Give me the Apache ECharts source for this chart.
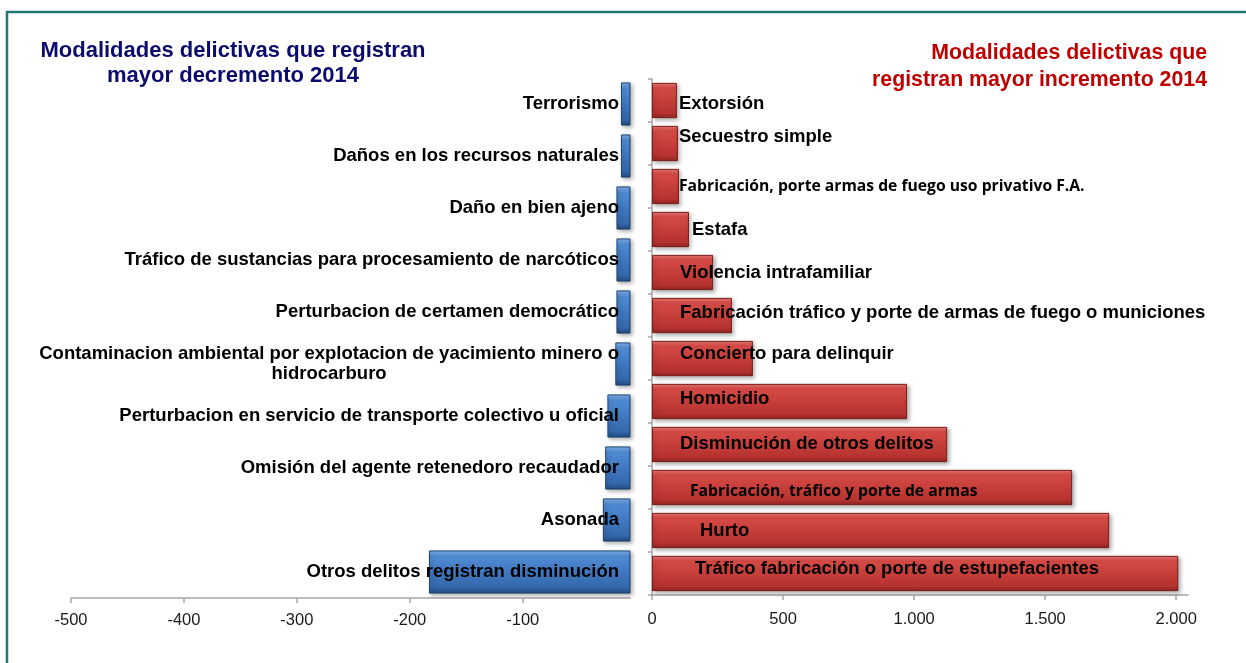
<!DOCTYPE html>
<html>
<head>
<meta charset="utf-8">
<title>Modalidades delictivas 2014</title>
<script src="https://cdn.jsdelivr.net/npm/echarts@6/dist/echarts.min.js"></script>
<style>
  html, body { margin: 0; padding: 0; background: #fff; }
  #main { width: 1246px; height: 663px; }
</style>
</head>
<body>
<div id="main"></div>
<script>
'use strict';

// decremento 2014 (panel izquierdo)
const decCategories = [
    'Terrorismo',
    'Daños en los recursos naturales',
    'Daño en bien ajeno',
    'Tráfico de sustancias para procesamiento de narcóticos',
    'Perturbacion de certamen democrático',
    'Contaminacion ambiental por explotacion de yacimiento minero o\nhidrocarburo',
    'Perturbacion en servicio de transporte colectivo u oficial',
    'Omisión del agente retenedoro recaudador',
    'Asonada',
    'Otros delitos registran disminución'
];
const decValues = [-13, -13, -17, -17, -17, -18, -25, -27, -29, -183];
const decTicks = [-500, -400, -300, -200, -100];

// incremento 2014 (panel derecho)
const incCategories = [
    'Extorsión',
    'Secuestro simple',
    'Fabricación, porte armas de fuego uso privativo F.A.',
    'Estafa',
    'Violencia intrafamiliar',
    'Fabricación tráfico y porte de armas de fuego o municiones',
    'Concierto para delinquir',
    'Homicidio',
    'Disminución de otros delitos',
    'Fabricación, tráfico y porte de armas',
    'Hurto',
    'Tráfico fabricación o porte de estupefacientes'
];
const incValues = [95, 99, 103, 141, 233, 305, 385, 973, 1126, 1603, 1744, 2008];
const incTicks = [0, 500, 1000, 1500, 2000];

// desplazamiento de las etiquetas (como estaban en el original)
const labelNudge = [[27, 3], [27, -7], [27, 0], [40, 0], [28, 0], [28, -3],
    [28, -5], [28, -3], [28, -1], [38, 4], [48, 0], [43, -5]];
const smallLabels = [2, 9];

const FONT = 'Liberation Sans, Arial, sans-serif';
const AXIS_GRAY = '#a6a6a6';

function grad(c0, c1, c2, c3, c4) {
    return new echarts.graphic.LinearGradient(0, 0, 0, 1, [
        {offset: 0, color: c0},
        {offset: 0.14, color: c1},
        {offset: 0.5, color: c2},
        {offset: 0.86, color: c3},
        {offset: 1, color: c4}
    ]);
}

const redStyle = {
    color: grad('#ee7a75', '#d64b46', '#c63e3a', '#b5322f', '#8e2421'),
    borderColor: '#7a1d1a',
    borderWidth: 1,
    shadowBlur: 4,
    shadowOffsetX: 2,
    shadowOffsetY: 2,
    shadowColor: 'rgba(0,0,0,0.3)'
};
const blueStyle = {
    color: grad('#82b4ee', '#4f8bd3', '#3f78c0', '#3468ab', '#224a80'),
    borderColor: '#1e4370',
    borderWidth: 1,
    shadowBlur: 4,
    shadowOffsetX: 2,
    shadowOffsetY: 2,
    shadowColor: 'rgba(0,0,0,0.3)'
};

const incData = incValues.map(function (v, i) {
    const small = smallLabels.indexOf(i) >= 0;
    return {
        value: v,
        label: {
            offset: labelNudge[i],
            fontFamily: small ? 'Open Sans' : FONT,
            fontSize: small ? 15.7 : 18.5
        }
    };
});

const thousands = function (v) {
    return String(v).replace(/\B(?=(\d{3})+(?!\d))/g, '.');
};

const chart = echarts.init(document.getElementById('main'));
chart.setOption({
    backgroundColor: '#ffffff',
    animation: false,
    graphic: [
        {
            type: 'rect',
            shape: {x: 7, y: 12, width: 1300, height: 720},
            style: {fill: 'none', stroke: '#22776f', lineWidth: 2.5},
            silent: true
        },
        {
            type: 'text',
            x: 233, y: 38,
            style: {
                text: 'Modalidades delictivas que registran\nmayor decremento 2014',
                textAlign: 'center',
                font: 'bold 22px ' + FONT,
                lineHeight: 25,
                fill: '#0c0c6e'
            }
        },
        {
            type: 'text',
            x: 1207, y: 40,
            style: {
                text: 'Modalidades delictivas que\nregistran mayor incremento 2014',
                textAlign: 'right',
                font: 'bold 21.3px ' + FONT,
                lineHeight: 27,
                fill: '#c00000'
            }
        }
    ],
    grid: [
        {left: 71, width: 559, top: 78, bottom: 65},
        {left: 652, width: 536, top: 79, bottom: 68}
    ],
    xAxis: [
        {
            gridIndex: 0,
            type: 'value',
            min: -500,
            max: -5,
            interval: 100,
            splitLine: {show: false},
            axisLine: {show: true, lineStyle: {color: AXIS_GRAY, width: 1.5}},
            axisTick: {show: true, length: 5, customValues: decTicks,
                lineStyle: {color: AXIS_GRAY, width: 1.5}},
            axisLabel: {customValues: decTicks, margin: 14, fontSize: 16.5,
                fontFamily: FONT, color: '#1a1a1a'}
        },
        {
            gridIndex: 1,
            type: 'value',
            min: 0,
            max: 2045,
            interval: 500,
            splitLine: {show: false},
            axisLine: {show: true, lineStyle: {color: AXIS_GRAY, width: 1.5}},
            axisTick: {show: true, length: 5, customValues: incTicks,
                lineStyle: {color: AXIS_GRAY, width: 1.5}},
            axisLabel: {customValues: incTicks, margin: 16, fontSize: 16.5,
                fontFamily: FONT, color: '#1a1a1a', formatter: thousands}
        }
    ],
    yAxis: [
        {
            gridIndex: 0,
            type: 'category',
            data: decCategories,
            inverse: true,
            position: 'right',
            z: 5,
            axisLine: {show: false},
            axisTick: {show: false},
            axisLabel: {
                inside: true,
                margin: 11,
                align: 'right',
                formatter: function (v) {
                    const parts = v.split('\n');
                    if (parts.length > 1) {
                        return '{m|' + parts[0] + '}\n{c|' + parts[1] + '}';
                    }
                    return '{m|' + v + '}';
                },
                rich: {
                    m: {fontFamily: FONT, fontWeight: 'bold', fontSize: 18.5,
                        color: '#000', lineHeight: 20},
                    c: {fontFamily: FONT, fontWeight: 'bold', fontSize: 18.5,
                        color: '#000', lineHeight: 20, align: 'center'}
                }
            }
        },
        {
            gridIndex: 1,
            type: 'category',
            data: incCategories,
            inverse: true,
            position: 'left',
            axisLine: {show: true, lineStyle: {color: AXIS_GRAY, width: 1.5}},
            axisTick: {show: true, length: 4, lineStyle: {color: AXIS_GRAY, width: 1.5}},
            axisLabel: {show: false}
        }
    ],
    series: [
        {
            name: 'Decremento',
            type: 'bar',
            xAxisIndex: 0,
            yAxisIndex: 0,
            barCategoryGap: '17%',
            clip: true,
            itemStyle: blueStyle,
            data: decValues
        },
        {
            name: 'Incremento',
            type: 'bar',
            xAxisIndex: 1,
            yAxisIndex: 1,
            barCategoryGap: '18%',
            itemStyle: redStyle,
            label: {
                show: true,
                position: 'insideLeft',
                distance: 0,
                formatter: '{b}',
                fontWeight: 'bold',
                color: '#000'
            },
            data: incData
        }
    ]
});
</script>
</body>
</html>
